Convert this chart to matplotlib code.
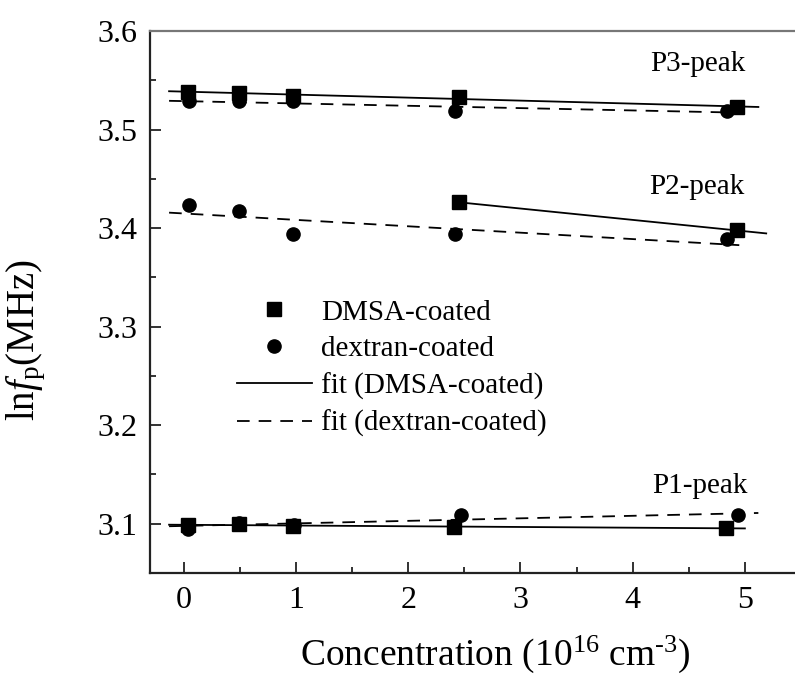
import numpy as np
import matplotlib
matplotlib.use("Agg")
import matplotlib.pyplot as plt

plt.rcParams['font.family'] = ['Liberation Serif', 'DejaVu Serif']
plt.rcParams['mathtext.fontset'] = 'custom'
plt.rcParams['mathtext.rm'] = 'Liberation Serif'
plt.rcParams['mathtext.it'] = 'Liberation Serif:italic'

# concentration (1e16 cm^-3) and ln f_p (MHz)
p3_dmsa_x = [0.04, 0.49, 0.97, 2.45, 4.93]
p3_dmsa_y = [3.5386, 3.5370, 3.5340, 3.5330, 3.5228]
p3_dex_x = [0.05, 0.49, 0.97, 2.42, 4.84]
p3_dex_y = [3.5285, 3.5285, 3.5285, 3.5190, 3.5190]

p2_dmsa_x = [2.45, 4.93]
p2_dmsa_y = [3.4262, 3.3976]
p2_dex_x = [0.05, 0.49, 0.97, 2.42, 4.84]
p2_dex_y = [3.4239, 3.4178, 3.3935, 3.3935, 3.3885]

p1_dmsa_x = [0.04, 0.49, 0.97, 2.41, 4.83]
p1_dmsa_y = [3.0983, 3.1000, 3.0976, 3.0966, 3.0956]
p1_dex_x = [0.04, 0.49, 0.98, 2.47, 4.94]
p1_dex_y = [3.0950, 3.1010, 3.0990, 3.1084, 3.1084]

# x-extent of each fitted line
p3_dmsa_fit = [-0.13, 5.12]
p3_dex_fit = [-0.13, 4.95]
p2_dmsa_fit = [2.45, 5.19]
p2_dex_fit = [-0.13, 4.95]
p1_dmsa_fit = [-0.13, 5.0]
p1_dex_fit = [-0.13, 5.12]

peak_labels = ["P3-peak", "P2-peak", "P1-peak"]
peak_label_x = [4.58, 4.57, 4.6]
peak_label_y = [3.567, 3.442, 3.1385]

fig = plt.figure(figsize=(7.95, 6.74), dpi=100)
ax = fig.add_axes([150/795, 1 - 573/674, 651/795, 542/674])

def fit_line(x, y, ext, ls, label=None):
    k, b = np.polyfit(x, y, 1)
    xs = np.array(ext)
    line, = ax.plot(xs, k*xs + b, color='black', lw=1.3, ls=ls, label=label)
    if ls == '--':
        line.set_dashes((7, 5))
    return line

ms = 9.5
sq = dict(marker='s', ms=ms, color='black', ls='none')
ci = dict(marker='o', ms=ms, color='black', ls='none')

fit_line(p3_dmsa_x, p3_dmsa_y, p3_dmsa_fit, '-', 'fit (DMSA-coated)')
fit_line(p3_dex_x, p3_dex_y, p3_dex_fit, '--', 'fit (dextran-coated)')
fit_line(p2_dmsa_x, p2_dmsa_y, p2_dmsa_fit, '-')
fit_line(p2_dex_x, p2_dex_y, p2_dex_fit, '--')
fit_line(p1_dmsa_x, p1_dmsa_y, p1_dmsa_fit, '-')
fit_line(p1_dex_x, p1_dex_y, p1_dex_fit, '--')

ax.plot(p3_dmsa_x, p3_dmsa_y, label='DMSA-coated', **sq)
ax.plot(p3_dex_x, p3_dex_y, label='dextran-coated', **ci)
ax.plot(p2_dmsa_x, p2_dmsa_y, **sq)
ax.plot(p2_dex_x, p2_dex_y, **ci)
ax.plot(p1_dmsa_x, p1_dmsa_y, **sq)
ax.plot(p1_dex_x, p1_dex_y, **ci)

for t, x, y in zip(peak_labels, peak_label_x, peak_label_y):
    ax.text(x, y, t, fontsize=21, ha='center', va='center')

ax.set_xlim(-0.3, 5.5)
ax.set_ylim(3.05, 3.6)
ax.set_xticks([0, 1, 2, 3, 4, 5])
ax.set_xticks(np.arange(0.5, 5.5, 1.0), minor=True)
ax.set_yticks([3.1, 3.2, 3.3, 3.4, 3.5, 3.6])
ax.set_yticks(np.arange(3.05, 3.6, 0.1), minor=True)
ax.set_yticklabels(['3.1', '3.2', '3.3', '3.4', '3.5', '3.6'])
ax.tick_params(which='both', direction='in', labelsize=23, width=1.3, color='#222')
ax.tick_params(which='major', length=8)
ax.tick_params(which='minor', length=4)
ax.tick_params(axis='y', pad=9)
ax.tick_params(axis='x', pad=9)
for s in ['left', 'bottom']:
    ax.spines[s].set_linewidth(1.6)
    ax.spines[s].set_color('#222')
ax.spines['top'].set_linewidth(1.6)
ax.spines['top'].set_color('#777')

ax.set_xlabel('Concentration (10$^{\\mathrm{16}}$ cm$^{\\mathrm{\u20103}}$)', fontsize=27)
ax.xaxis.set_label_coords(0.53, -0.112, transform=ax.transAxes)
ax.xaxis.label.set_va('top')
ax.set_ylabel(r'ln$\mathit{f}_{\rm p}$(MHz)', fontsize=28)
ax.yaxis.set_label_coords(-0.156, 0.43, transform=ax.transAxes)

h, l = ax.get_legend_handles_labels()
order = [2, 3, 0, 1]
ax.legend([h[i] for i in order], [l[i] for i in order], loc='upper left',
          bbox_to_anchor=(0.133, 0.505), frameon=False, fontsize=21,
          handlelength=2.6, handletextpad=0.3, labelspacing=0.35,
          borderpad=0, borderaxespad=0)

fig.savefig('out.png', dpi=100)
